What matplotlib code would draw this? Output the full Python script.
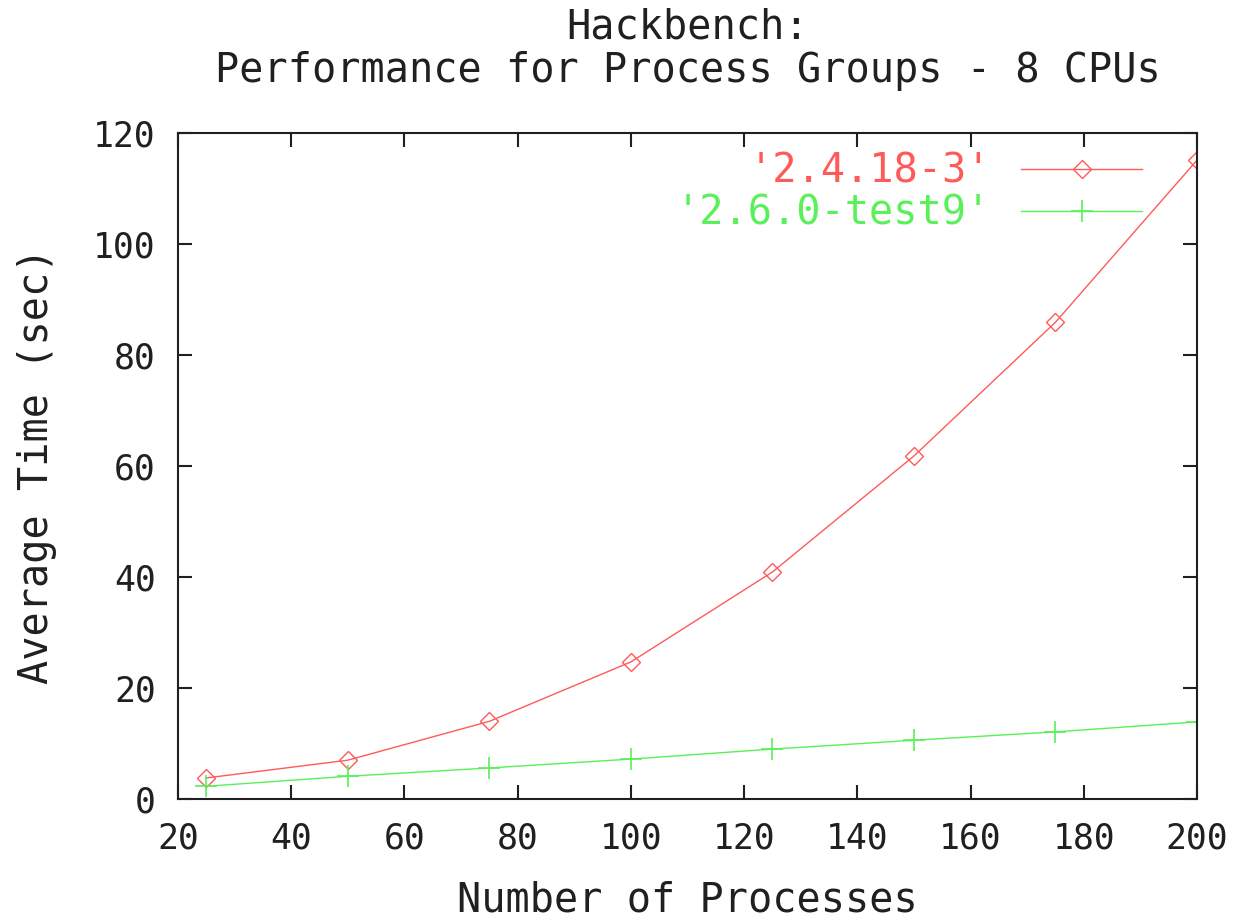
import matplotlib.pyplot as plt

# hackbench timings, process groups on 8 CPUs
procs = [25, 50, 75, 100, 125, 150, 175, 200]
time_2418 = [3.8, 7.0, 14.0, 24.7, 40.9, 61.8, 85.9, 115.1]
time_260 = [2.3, 4.1, 5.6, 7.2, 9.0, 10.6, 12.1, 13.9]

xticks = [20, 40, 60, 80, 100, 120, 140, 160, 180, 200]
yticks = [0, 20, 40, 60, 80, 100, 120]

plt.rcParams['font.family'] = ['DejaVu Sans Mono']
fs = 29
tfs = 25
ink = '#202020'

fig = plt.figure(figsize=(12.4, 9.23), dpi=100)
ax = fig.add_axes([0.1435, 0.1343, 0.8218, 0.7216])

red = '#ff5a5a'
green = '#5af05a'
ax.plot(procs, time_2418, color=red, lw=1.0, marker='D', ms=9,
        mfc='none', mec=red, mew=1.0, label="'2.4.18-3'")
ax.plot(procs, time_260, color=green, lw=1.0, marker='+', ms=16,
        mec=green, mew=1.2, label="'2.6.0-test9'")

ax.set_xlim(20, 200)
ax.set_ylim(0, 120)
ax.set_xticks(xticks)
ax.set_yticks(yticks)
ax.tick_params(direction='in', length=10, width=1.5, top=True, right=True,
               labelsize=tfs, pad=16, colors=ink)
for s in ax.spines.values():
    s.set_linewidth(1.5)
    s.set_color(ink)

ax.set_xlabel('Number of Processes', fontsize=fs, labelpad=18, color=ink)
ax.set_ylabel('Average Time (sec)', fontsize=fs, labelpad=26, color=ink)
ax.set_title('Hackbench:\nPerformance for Process Groups - 8 CPUs',
             fontsize=fs, pad=37, color=ink, linespacing=1.1)

leg = ax.legend(loc='upper right', frameon=False, markerfirst=False,
                fontsize=fs, handlelength=3.0, handletextpad=0.75,
                labelspacing=0.05, borderaxespad=0.0, borderpad=0.0,
                bbox_to_anchor=(0.946, 0.972))
for txt, c in zip(leg.get_texts(), [red, green]):
    txt.set_color(c)

fig.savefig('out.png', dpi=100)
